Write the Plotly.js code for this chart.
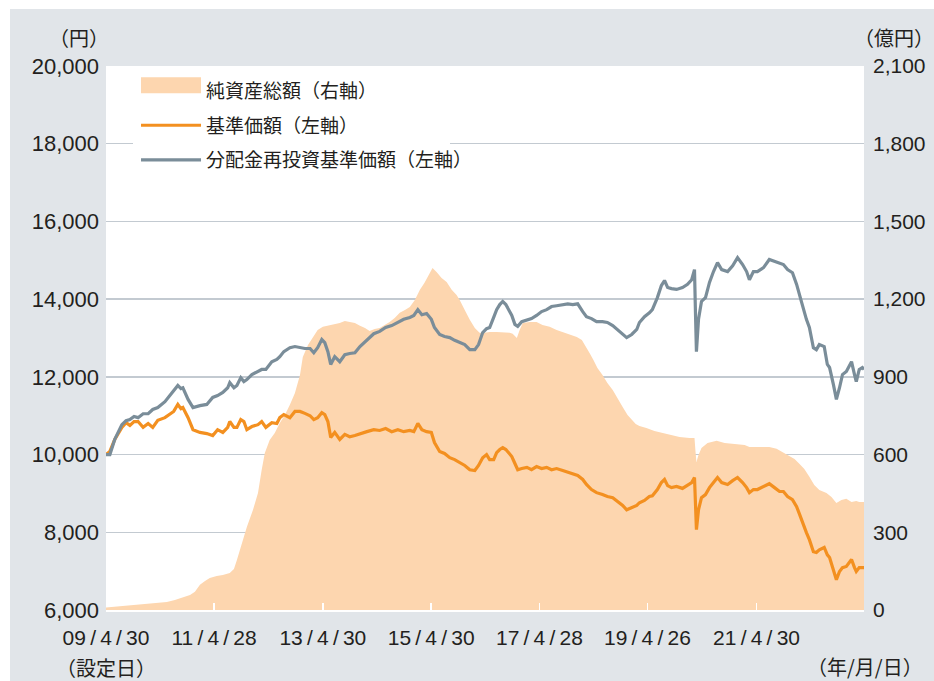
<!DOCTYPE html>
<html><head><meta charset="utf-8">
<script src="https://cdn.plot.ly/plotly-3.0.1.min.js"></script>
<style>
html,body{margin:0;padding:0;background:#ffffff;}
#chart{position:absolute;left:10px;top:9px;width:924px;height:672px;}
.legendfill path{transform:translate(0px,-8px) scale(1,2.667);}
</style></head><body><div id="chart"></div>
<script>
// ---- data ----
const lineDates = ['2009-04-30','2009-05-26','2009-06-28','2009-08-15','2009-09-12','2009-10-08','2009-11-05','2009-12-02','2010-01-05','2010-02-08','2010-03-11','2010-04-14','2010-06-01','2010-07-04','2010-07-30','2010-08-27','2010-09-17','2010-09-30','2010-11-04','2010-12-07','2011-01-23','2011-03-10','2011-04-19','2011-05-22','2011-06-26','2011-07-29','2011-08-12','2011-09-09','2011-09-29','2011-10-25','2011-11-15','2011-12-05','2012-01-08','2012-02-18','2012-03-14','2012-04-11','2012-05-21','2012-06-24','2012-07-14','2012-08-10','2012-09-20','2012-10-24','2012-11-27','2012-12-30','2013-02-03','2013-02-28','2013-03-26','2013-04-23','2013-05-13','2013-06-03','2013-06-22','2013-07-19','2013-08-22','2013-09-25','2013-10-28','2013-12-02','2014-01-05','2014-02-21','2014-04-08','2014-05-18','2014-06-27','2014-08-07','2014-09-17','2014-10-27','2014-12-07','2015-01-03','2015-01-30','2015-02-26','2015-03-30','2015-05-01','2015-05-22','2015-06-26','2015-07-29','2015-09-02','2015-10-05','2015-11-08','2015-12-12','2016-01-15','2016-02-18','2016-03-14','2016-04-11','2016-05-07','2016-05-28','2016-06-24','2016-07-14','2016-08-04','2016-08-24','2016-09-14','2016-10-04','2016-10-24','2016-11-14','2016-12-03','2016-12-30','2017-02-03','2017-03-06','2017-04-09','2017-05-13','2017-06-16','2017-07-19','2017-08-22','2017-10-02','2017-11-05','2017-12-09','2018-01-11','2018-02-14','2018-03-11','2018-04-14','2018-05-18','2018-06-27','2018-07-30','2018-09-04','2018-10-07','2018-11-10','2018-12-07','2019-01-10','2019-02-13','2019-03-03','2019-04-06','2019-05-09','2019-05-29','2019-07-02','2019-07-29','2019-08-19','2019-09-09','2019-10-05','2019-11-08','2019-12-18','2020-01-21','2020-02-18','2020-03-08','2020-03-14','2020-03-21','2020-04-04','2020-04-24','2020-05-21','2020-06-17','2020-07-14','2020-08-10','2020-09-07','2020-10-17','2020-11-20','2020-12-23','2021-01-26','2021-02-22','2021-03-13','2021-04-09','2021-05-06','2021-06-16','2021-07-25','2021-08-29','2021-10-02','2021-10-28','2021-11-25','2021-12-28','2022-01-25','2022-02-14','2022-03-04','2022-04-01','2022-04-21','2022-05-18','2022-06-07','2022-06-27','2022-07-30','2022-08-20','2022-09-04','2022-09-30','2022-10-20','2022-11-10','2022-11-30','2022-12-26','2023-01-16','2023-01-30','2023-02-19','2023-03-03','2023-03-23','2023-04-13','2023-04-24'];

// 基準価額（円）
const basePrice = [10000,10080,10390,10700,10820,10750,10850,10850,10700,10800,10700,10880,10950,11030,11110,11290,11180,11210,10950,10640,10570,10540,10490,10640,10570,10700,10850,10700,10700,10900,10850,10640,10720,10770,10850,10700,10820,10800,10950,11030,10950,11110,11110,11060,11000,10900,10950,11080,11030,10850,10440,10570,10390,10520,10460,10490,10540,10590,10640,10620,10670,10590,10640,10590,10620,10590,10800,10640,10590,10570,10310,10080,10030,9920,9870,9790,9720,9610,9590,9720,9920,10000,9870,9870,10050,10130,10180,10130,10050,9950,9770,9610,9640,9670,9610,9690,9640,9670,9610,9640,9590,9540,9510,9460,9360,9230,9100,9020,8970,8920,8890,8790,8690,8580,8640,8690,8760,8820,8920,8940,9100,9280,9360,9200,9150,9180,9130,9200,9280,9410,8580,8070,8580,8890,8970,9150,9280,9410,9280,9230,9330,9410,9280,9150,9020,9100,9100,9180,9250,9150,9050,9050,8920,8840,8660,8460,8250,7990,7810,7500,7480,7550,7610,7420,7350,7040,6780,6990,7090,7120,7250,7300,7090,6990,7090,7090,7090];

// 分配金再投資基準価額（円）
const reinvPrice = [10000,10000,10390,10770,10870,10900,10980,10950,11050,11050,11160,11210,11360,11520,11620,11780,11700,11720,11420,11210,11260,11290,11470,11520,11600,11720,11850,11720,11780,11980,11880,11930,12060,12140,12190,12190,12390,12450,12520,12650,12750,12780,12750,12730,12730,12620,12750,12960,12880,12650,12320,12520,12390,12570,12600,12620,12780,12960,13110,13170,13270,13320,13400,13480,13530,13580,13730,13600,13630,13480,13270,13090,13040,13010,12940,12880,12830,12700,12700,12830,13140,13240,13270,13530,13730,13860,13940,13860,13730,13580,13350,13300,13420,13470,13500,13580,13680,13730,13810,13830,13860,13880,13860,13880,13680,13550,13500,13420,13420,13400,13320,13220,13110,13010,13090,13220,13400,13550,13650,13730,14040,14350,14480,14300,14270,14250,14300,14380,14500,14760,13730,12650,13480,13940,14040,14430,14710,14940,14760,14710,14860,15070,14890,14710,14500,14710,14710,14810,15020,14970,14920,14890,14760,14680,14380,14070,13860,13480,13270,12750,12700,12830,12780,12320,12240,11800,11420,11720,12060,12140,12320,12390,12060,11880,12190,12240,12190];

// 純資産総額（億円）
const navDates = ['2009-04-30','2009-10-28','2010-02-21','2010-06-14','2010-08-07','2010-11-17','2010-12-20','2011-01-23','2011-02-26','2011-03-30','2011-05-16','2011-06-26','2011-08-12','2011-09-09','2011-09-29','2011-11-02','2011-12-05','2012-01-15','2012-02-18','2012-03-14','2012-04-04','2012-05-07','2012-06-10','2012-07-14','2012-08-17','2012-09-20','2012-10-24','2012-11-27','2012-12-16','2013-01-20','2013-02-22','2013-03-26','2013-04-30','2013-06-03','2013-07-06','2013-08-22','2013-09-25','2013-10-28','2013-12-02','2014-01-05','2014-02-08','2014-03-11','2014-04-14','2014-05-18','2014-06-21','2014-07-24','2014-08-27','2014-09-30','2014-11-04','2014-12-07','2015-01-10','2015-02-13','2015-03-16','2015-04-19','2015-05-09','2015-06-05','2015-07-09','2015-08-12','2015-09-15','2015-10-18','2015-11-08','2015-12-12','2016-01-15','2016-02-18','2016-03-21','2016-04-24','2016-05-28','2016-07-14','2016-09-07','2016-10-10','2016-10-30','2016-11-27','2016-12-16','2017-01-06','2017-02-22','2017-04-09','2017-05-19','2017-07-06','2017-08-22','2017-10-02','2017-11-18','2018-01-05','2018-02-08','2018-03-11','2018-04-01','2018-04-27','2018-05-24','2018-06-27','2018-07-30','2018-09-04','2018-10-07','2018-11-10','2018-12-13','2019-01-10','2019-02-06','2019-03-03','2019-04-19','2019-06-12','2019-08-05','2019-09-22','2019-11-28','2020-02-04','2020-03-08','2020-03-14','2020-03-21','2020-04-04','2020-04-24','2020-06-04','2020-08-04','2020-09-27','2020-12-16','2021-02-09','2021-03-13','2021-05-19','2021-07-25','2021-09-12','2021-10-22','2021-12-09','2022-01-11','2022-02-14','2022-03-18','2022-04-21','2022-05-24','2022-06-27','2022-08-14','2022-09-17','2022-10-20','2022-11-23','2022-12-26','2023-01-30','2023-03-03','2023-03-23','2023-04-24'];
const navValues = [10,19,23,31,39,58,70,97,112,124,131,135,143,158,193,259,320,386,452,541,606,656,683,722,753,792,838,907,977,1023,1050,1081,1093,1097,1100,1108,1116,1112,1108,1097,1089,1077,1085,1089,1100,1112,1127,1147,1158,1170,1197,1236,1263,1297,1320,1305,1282,1266,1236,1216,1197,1158,1120,1089,1070,1070,1073,1073,1070,1070,1066,1050,1081,1108,1112,1112,1100,1093,1081,1073,1066,1054,1042,1015,992,965,934,907,876,849,815,784,753,734,718,710,703,691,683,676,668,664,664,618,571,598,625,645,653,645,641,637,629,629,629,622,610,595,583,564,544,514,483,463,452,436,413,425,429,417,421,417,417];

const xTickVals = ['2009-04-30','2011-04-28','2013-04-30','2015-04-30','2017-04-28','2019-04-26','2021-04-30'];
const xTickText = ['09\u2009/\u20094\u2009/\u200930','11\u2009/\u20094\u2009/\u200928','13\u2009/\u20094\u2009/\u200930','15\u2009/\u20094\u2009/\u200930','17\u2009/\u20094\u2009/\u200928','19\u2009/\u20094\u2009/\u200926','21\u2009/\u20094\u2009/\u200930'];

const names = ['純資産総額（右軸）','基準価額（左軸）','分配金再投資基準価額（左軸）'];

// ---- style ----
const NUM = '"Liberation Sans", Arial, "Noto Sans CJK JP", sans-serif';
const JP = '"Noto Sans CJK JP", "Liberation Sans", sans-serif';
const TXT = '#231f20';

const traces = [
  {x: navDates, y: navValues, name: names[0], type: 'scatter', mode: 'lines',
   fill: 'tozeroy', fillcolor: '#fdd6af', line: {width: 0, color: '#fdd6af'},
   yaxis: 'y', legendgroup: 'a', hoverinfo: 'skip'},
  {x: lineDates, y: basePrice, name: names[1], type: 'scatter', mode: 'lines',
   line: {color: '#f39020', width: 3.2}, yaxis: 'y2', legendgroup: 'b'},
  {x: lineDates, y: reinvPrice, name: names[2], type: 'scatter', mode: 'lines',
   line: {color: '#7a8d99', width: 3.2}, yaxis: 'y2', legendgroup: 'c'}
];

const layout = {
  width: 924, height: 672,
  paper_bgcolor: '#e1e5e9', plot_bgcolor: '#ffffff',
  margin: {l: 96, r: 70, t: 57, b: 71, pad: 0},
  showlegend: true,
  legend: {x: 0.0396, y: 0.9895, xanchor: 'left', yanchor: 'top',
    bgcolor: 'rgba(0,0,0,0)', borderwidth: 0,
    font: {family: JP, size: 19, color: TXT},
    traceorder: 'grouped', tracegroupgap: 7, itemwidth: 60},
  xaxis: {type: 'date', range: ['2009-04-30', '2023-04-24'],
    tickmode: 'array', tickvals: xTickVals, ticktext: xTickText,
    ticks: 'inside', ticklen: 7, tickwidth: 1.5, tickcolor: '#ffffff',
    showline: true, linecolor: '#ffffff', linewidth: 2,
    showgrid: false, zeroline: false, ticklabelstandoff: 8,
    tickfont: {family: NUM, size: 21, color: TXT}, fixedrange: true},
  yaxis: {range: [0, 2100], tick0: 0, dtick: 300, side: 'right',
    tickformat: ',d', showgrid: true, gridcolor: '#c3cad1', gridwidth: 1.3,
    zeroline: false, showline: false, ticks: '', ticklabelstandoff: 8,
    tickfont: {family: NUM, size: 21, color: TXT}, fixedrange: true},
  yaxis2: {range: [6000, 20000], tick0: 6000, dtick: 2000, side: 'left',
    overlaying: 'y', tickformat: ',d', showgrid: false, zeroline: false,
    showline: false, ticks: '', ticklabelstandoff: 6,
    tickfont: {family: NUM, size: 22, color: TXT}, fixedrange: true},
  shapes: [{type: 'rect', xref: 'paper', yref: 'paper',
    x0: 0.0356, x1: 0.4538, y0: 0.79, y1: 0.982,
    fillcolor: '#ffffff', line: {width: 0}, layer: 'above'}],
  annotations: [
    {text: '（円）', xref: 'paper', yref: 'paper', x: 0.006, y: 1.053,
     xanchor: 'right', yanchor: 'middle', showarrow: false,
     font: {family: JP, size: 20, color: TXT}},
    {text: '（億円）', xref: 'paper', yref: 'paper', x: 1.095, y: 1.053,
     xanchor: 'right', yanchor: 'middle', showarrow: false,
     font: {family: JP, size: 20, color: TXT}},
    {text: '（設定日）', xref: 'paper', yref: 'paper', x: 0, y: -0.0775,
     xanchor: 'center', yanchor: 'top', showarrow: false, borderpad: 0,
     font: {family: JP, size: 20, color: TXT}},
    {text: '（年/月/日）', xref: 'paper', yref: 'paper', x: 1.08, y: -0.103,
     xanchor: 'right', yanchor: 'middle', showarrow: false,
     font: {family: JP, size: 20, color: TXT}}
  ]
};

Plotly.newPlot('chart', traces, layout, {displayModeBar: false, staticPlot: true});
</script>
</body></html>
